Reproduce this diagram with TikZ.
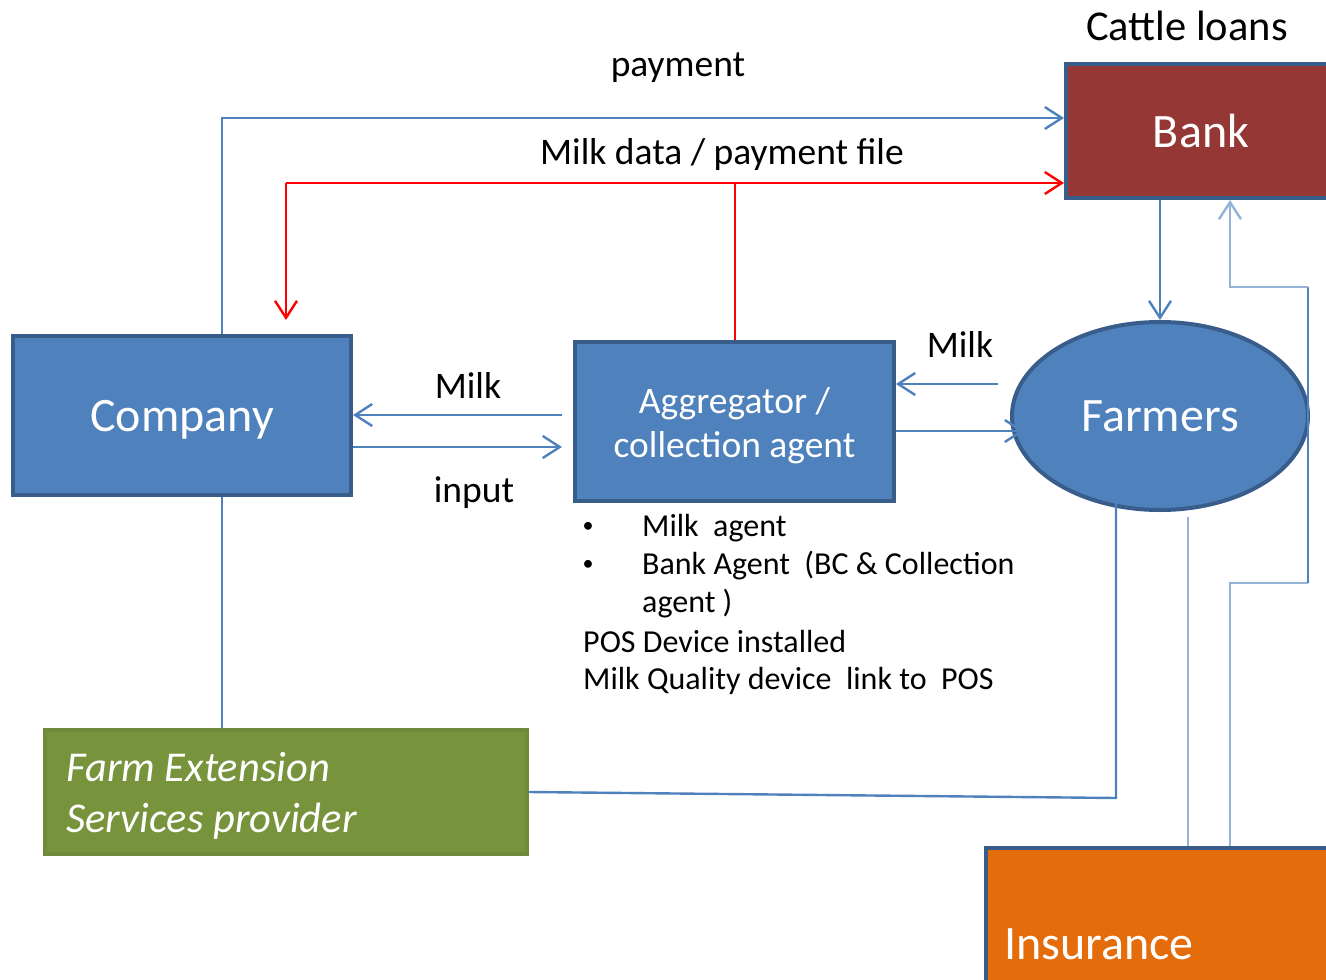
\documentclass[tikz,border=0pt]{standalone}
\usepackage{fontspec}
\setmainfont{Carlito}
\usetikzlibrary{arrows.meta,shapes.geometric}
\definecolor{boxblue}{HTML}{4F81BD}
\definecolor{boxborder}{HTML}{385D8A}
\definecolor{bankred}{HTML}{953735}
\definecolor{farmgreen}{HTML}{77933C}
\definecolor{farmborder}{HTML}{6F8A38}
\definecolor{insorange}{HTML}{E46C0A}
\definecolor{lightblue}{HTML}{95B3D7}
\definecolor{linered}{HTML}{FF0000}
\tikzset{
  blk/.style={draw=boxborder, line width=4pt, fill=boxblue, text=white, inner sep=0pt},
  conn/.style={draw=boxblue, line width=2.4pt},
  lconn/.style={draw=lightblue, line width=2.4pt},
  rconn/.style={draw=linered, line width=2.4pt},
  arr/.style={-{Straight Barb[length=17pt,width=22pt,line width=2.4pt]}},
  lbl/.style={text=black, inner sep=0pt},
  big/.style={font=\fontsize{48}{54}\selectfont},
  mid/.style={font=\fontsize{37.5}{44}\selectfont},
  sml/.style={font=\fontsize{32}{38}\selectfont},
}
\begin{document}
\begin{tikzpicture}[x=1pt,y=-1pt]
\clip (0,0) rectangle (1326,980);
\fill[white] (0,0) rectangle (1326,980);
% boxes
\node[blk, fill=bankred, minimum width=270, minimum height=134, big] (bank) at (1201,131) {Bank};
\node[blk, minimum width=338, minimum height=159, big, text depth=0pt] (company) at (182,415.5) {Company};
\node[blk, minimum width=319, minimum height=159] (agg) at (734.5,421.5) {};
\node[lbl, text=white, mid, align=center] (aggtext) at (734.5,426) {Aggregator /\\collection agent};
\node[blk, ellipse, minimum width=296, minimum height=188, big] (farmers) at (1160,416) {Farmers};
\node[blk, draw=farmborder, fill=farmgreen, minimum width=482, minimum height=124] (fes) at (286,792) {};
\node[lbl, text=white, anchor=west, align=left, font=\fontsize{42.5}{51}\selectfont\itshape] (festext) at (66,796) {Farm Extension\\Services provider};
\node[blk, fill=insorange, anchor=north west, minimum width=420, minimum height=160] (ins) at (984,846) {};
\node[lbl, text=white, anchor=west, big] (instext) at (1004,944) {Insurance};
% labels
\node[lbl, font=\fontsize{42.5}{50}\selectfont] (cattle) at (1187,26) {Cattle loans};
\node[lbl, mid] (paylbl) at (678,68) {payment};
\node[lbl, mid] (mdlbl) at (722,154) {Milk data / payment file};
\node[lbl, mid] (milk1) at (468,385) {Milk};
\node[lbl, mid] (inputlbl) at (474,493) {input};
\node[lbl, mid] (milk2) at (960,344) {Milk};
\node[lbl, font=\fontsize{22}{26}\selectfont] (b1) at (588,527) {•};
\node[lbl, sml, anchor=west] (t1) at (642,528) {Milk\ \ agent};
\node[lbl, font=\fontsize{22}{26}\selectfont] (b2) at (588,565) {•};
\node[lbl, sml, anchor=west] (t2) at (642,566) {Bank Agent\ \ (BC \& Collection};
\node[lbl, sml, anchor=west] (t3) at (642,604) {agent )};
\node[lbl, sml, anchor=west] (t4) at (583,642) {POS Device installed};
\node[lbl, sml, anchor=west] (t5) at (583,681) {Milk Quality device\ \ link to\ \ POS};
% coordinates
\coordinate (p1) at (222,118);
\coordinate (r1) at (286,183);
\coordinate (r2) at (735,183);
\coordinate (fe1) at (1116,798);
\coordinate (i1) at (1230,583);
\coordinate (i2) at (1308,583);
\coordinate (i3) at (1308,287);
\coordinate (i4) at (1230,287);
% connectors
\draw[conn, arr] (company.north -| p1) -- (p1) -- (bank.west |- p1);
\draw[rconn] (agg.north -| r2) -- (r2);
\draw[rconn, arr] (r1) -- (bank.west |- r1);
\draw[rconn, arr] (r1) -- (286,320);
\draw[conn, arr] (bank.south -| farmers.north) -- (farmers.north);
\draw[conn, arr] (998,384) -- (agg.east |- 0,384);
\draw[conn, arr] (agg.east |- 0,431) -- (1024,431);
\draw[conn, arr] (562,415) -- (company.east |- 0,415);
\draw[conn, arr] (company.east |- 0,447) -- (562,447);
\draw[conn] (company.south -| p1) -- (fes.north -| p1);
\draw[conn] (fes.east |- 0,792) -- (fe1) -- (1116,503);
\draw[lconn] (1188,517) -- (ins.north -| 1188,0);
\draw[lconn] (ins.north -| i1) -- (i1) -- (i2);
\draw[conn] (i2) -- (i3);
\draw[lconn, arr] (i3) -- (i4) -- (bank.south -| i4);
\end{tikzpicture}
\end{document}
